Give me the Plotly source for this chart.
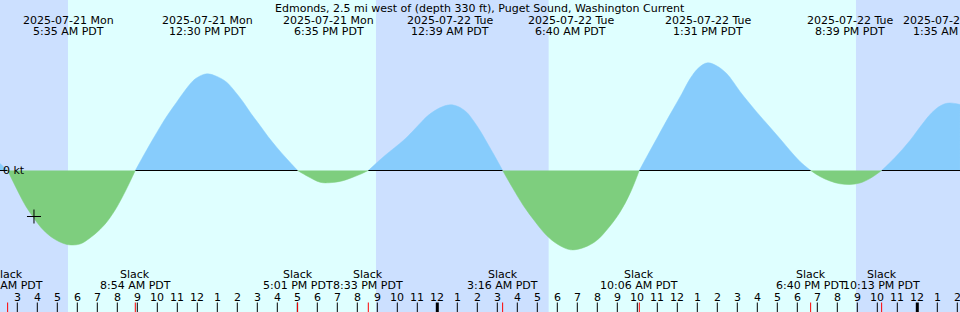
import plotly.graph_objects as go
import pandas as pd

# ---------------- data ----------------
TITLE = "Edmonds, 2.5 mi west of (depth 330 ft), Puget Sound, Washington Current"

# current curve: time, knots (+ flood, - ebb)
curve_times = [
    # flood (tail)
    "2025-07-21 02:08", "2025-07-21 02:31",
    # ebb 1
    "2025-07-21 02:50", "2025-07-21 03:08", "2025-07-21 03:26", "2025-07-21 03:48",
    "2025-07-21 04:11", "2025-07-21 04:38", "2025-07-21 05:08", "2025-07-21 05:35",
    "2025-07-21 06:08", "2025-07-21 06:38", "2025-07-21 07:08", "2025-07-21 07:32",
    "2025-07-21 07:58", "2025-07-21 08:26", "2025-07-21 08:54",
    # flood 1
    "2025-07-21 09:29", "2025-07-21 10:08", "2025-07-21 10:32", "2025-07-21 10:58",
    "2025-07-21 11:23", "2025-07-21 11:48", "2025-07-21 12:08", "2025-07-21 12:30",
    "2025-07-21 12:59", "2025-07-21 13:28", "2025-07-21 13:53", "2025-07-21 14:18",
    "2025-07-21 14:41", "2025-07-21 15:08", "2025-07-21 15:32", "2025-07-21 15:58",
    "2025-07-21 16:29", "2025-07-21 17:01",
    # ebb 2
    "2025-07-21 17:32", "2025-07-21 18:08", "2025-07-21 18:35", "2025-07-21 19:14",
    "2025-07-21 19:47", "2025-07-21 20:11", "2025-07-21 20:33",
    # flood 2
    "2025-07-21 21:23", "2025-07-21 22:18", "2025-07-21 22:44", "2025-07-21 23:08",
    "2025-07-21 23:32", "2025-07-21 23:58", "2025-07-22 00:17", "2025-07-22 00:39",
    "2025-07-22 01:02", "2025-07-22 01:28", "2025-07-22 01:50", "2025-07-22 02:08",
    "2025-07-22 02:29", "2025-07-22 02:53", "2025-07-22 03:16",
    # ebb 3
    "2025-07-22 03:47", "2025-07-22 04:18", "2025-07-22 04:53", "2025-07-22 05:28",
    "2025-07-22 06:02", "2025-07-22 06:40", "2025-07-22 07:20", "2025-07-22 07:58",
    "2025-07-22 08:32", "2025-07-22 09:08", "2025-07-22 09:38", "2025-07-22 10:06",
    # flood 3
    "2025-07-22 10:32", "2025-07-22 10:58", "2025-07-22 11:23", "2025-07-22 11:48",
    "2025-07-22 12:14", "2025-07-22 12:38", "2025-07-22 13:05", "2025-07-22 13:31",
    "2025-07-22 13:59", "2025-07-22 14:28", "2025-07-22 14:47", "2025-07-22 15:08",
    "2025-07-22 15:32", "2025-07-22 15:58", "2025-07-22 16:23", "2025-07-22 16:48",
    "2025-07-22 17:14", "2025-07-22 17:38", "2025-07-22 18:08", "2025-07-22 18:40",
    # ebb 4
    "2025-07-22 19:08", "2025-07-22 19:38", "2025-07-22 20:08", "2025-07-22 20:39",
    "2025-07-22 21:08", "2025-07-22 21:38", "2025-07-22 22:13",
    # flood 4
    "2025-07-22 22:53", "2025-07-22 23:38", "2025-07-23 00:14", "2025-07-23 00:44",
    "2025-07-23 01:11", "2025-07-23 01:35", "2025-07-23 02:08",
]
curve_knots = [
    0.07, 0.0,
    -0.13, -0.25, -0.36, -0.467,
    -0.57, -0.655, -0.715, -0.743,
    -0.735, -0.675, -0.59, -0.50,
    -0.37, -0.195, 0.0,
    0.21, 0.433, 0.56, 0.683,
    0.80, 0.90, 0.945, 0.967,
    0.94, 0.883, 0.79, 0.683,
    0.57, 0.45, 0.34, 0.233,
    0.115, 0.0,
    -0.06, -0.117, -0.123, -0.105,
    -0.067, -0.035, 0.0,
    0.15, 0.30, 0.385, 0.47,
    0.55, 0.61, 0.64, 0.657,
    0.64, 0.583, 0.49, 0.40,
    0.28, 0.14, 0.0,
    -0.18, -0.35, -0.51, -0.65,
    -0.74, -0.793, -0.77, -0.70,
    -0.58, -0.417, -0.23, 0.0,
    0.16, 0.317, 0.47, 0.617,
    0.77, 0.917, 1.03, 1.077,
    1.045, 0.97, 0.89, 0.79,
    0.69, 0.585, 0.49, 0.395,
    0.295, 0.20, 0.09, 0.0,
    -0.06, -0.105, -0.133, -0.14,
    -0.125, -0.08, 0.0,
    0.13, 0.30, 0.46, 0.58,
    0.65, 0.675, 0.66,
]

# max flood / max ebb events (top labels)
extreme_times = [
    "2025-07-21 05:35", "2025-07-21 12:30", "2025-07-21 18:35", "2025-07-22 00:39",
    "2025-07-22 06:40", "2025-07-22 13:31", "2025-07-22 20:39", "2025-07-23 01:35",
]
# slack water events (bottom labels)
slack_times = [
    "2025-07-21 02:31", "2025-07-21 08:54", "2025-07-21 17:01", "2025-07-21 20:33",
    "2025-07-22 03:16", "2025-07-22 10:06", "2025-07-22 18:40", "2025-07-22 22:13",
]
# night periods (sunset -> sunrise)
night_start = ["2025-07-21 00:00", "2025-07-21 20:56", "2025-07-22 20:56"]
night_end = ["2025-07-21 05:32", "2025-07-22 05:34", "2025-07-23 04:00"]

now_time = "2025-07-21 03:50"
now_knots = -0.46

x_start = "2025-07-21 02:08:06"
x_end = "2025-07-23 02:08:06"

# ---------------- styles ----------------
FONT = "DejaVu Sans"
DAY = "#DFFFFF"
NIGHT = "#CCE0FF"
FLOOD = "#87CCFC"
EBB = "#7ECE7E"
H = 312.0


def py(px):
    """paper y from pixel-from-top"""
    return 1 - px / H


fig = go.Figure()

# split curve into flood / ebb segments at slack points
segments = []
cur_t, cur_v = [], []
for t, v in zip(curve_times, curve_knots):
    cur_t.append(t)
    cur_v.append(v)
    if v == 0 and len(cur_t) > 1:
        segments.append((cur_t, cur_v))
        cur_t, cur_v = [t], [v]
if len(cur_t) > 1:
    segments.append((cur_t, cur_v))

flood_segs = [s for s in segments if max(s[1]) > 0]
ebb_segs = [s for s in segments if min(s[1]) < 0]

for ts, vs in flood_segs:
    fig.add_trace(go.Scatter(x=ts, y=vs, mode="lines",
                             line=dict(width=0.5, color=FLOOD, shape="spline", smoothing=1.0),
                             fill="tozeroy", fillcolor=FLOOD, hoverinfo="skip", showlegend=False))

# zero line, drawn only along flood spans (ebb fill hides it in the reference)
zx, zy = [], []
for ts, vs in flood_segs:
    zx += [ts[0], ts[-1], None]
    zy += [0, 0, None]
zx[-2] = x_end
fig.add_trace(go.Scatter(x=zx, y=zy, mode="lines", line=dict(width=1, color="black"),
                         hoverinfo="skip", showlegend=False, connectgaps=False))

for ts, vs in ebb_segs:
    fig.add_trace(go.Scatter(x=ts, y=vs, mode="lines",
                             line=dict(width=0.5, color=EBB, shape="spline", smoothing=1.0),
                             fill="tozeroy", fillcolor=EBB, hoverinfo="skip", showlegend=False))

# "now" marker
fig.add_trace(go.Scatter(x=[now_time], y=[now_knots], mode="markers",
                         marker=dict(symbol="cross-thin", size=10, line=dict(width=1, color="black")),
                         hoverinfo="skip", showlegend=False))

shapes = []
for a, b in zip(night_start, night_end):
    shapes.append(dict(type="rect", xref="x", yref="paper", x0=a, x1=b, y0=0, y1=1,
                       fillcolor=NIGHT, line=dict(width=0), layer="below"))

annotations = []
annotations.append(dict(text=TITLE, x=0.5, y=py(8), xref="paper", yref="paper",
                        xanchor="center", yanchor="middle", showarrow=False,
                        font=dict(family=FONT, size=11, color="black")))
annotations.append(dict(text="0 kt", x=0, y=0, xref="paper", yref="y", xshift=1,
                        xanchor="left", yanchor="middle", showarrow=False,
                        font=dict(family=FONT, size=11, color="black")))


def fmt_time(ts):
    d = pd.Timestamp(ts)
    h = d.hour % 12
    if h == 0:
        h = 12
    return f"{h}:{d.minute:02d} {'AM' if d.hour < 12 else 'PM'} PDT"


for t in extreme_times:
    d = pd.Timestamp(t)
    annotations.append(dict(text=d.strftime("%Y-%m-%d %a"), x=t, y=py(20.5), xref="x", yref="paper",
                            xanchor="center", yanchor="middle", showarrow=False,
                            font=dict(family=FONT, size=11, color="black")))
    annotations.append(dict(text=fmt_time(t), x=t, y=py(31.5), xref="x", yref="paper",
                            xanchor="center", yanchor="middle", showarrow=False,
                            font=dict(family=FONT, size=11, color="black")))

for t in slack_times:
    annotations.append(dict(text="Slack", x=t, y=py(274), xref="x", yref="paper",
                            xanchor="center", yanchor="middle", showarrow=False,
                            font=dict(family=FONT, size=11, color="black")))
    annotations.append(dict(text=fmt_time(t), x=t, y=py(285.5), xref="x", yref="paper",
                            xanchor="center", yanchor="middle", showarrow=False,
                            font=dict(family=FONT, size=11, color="black")))

# hour ticks
hours = pd.date_range("2025-07-21 03:00", "2025-07-23 02:00", freq="h")
for hr in hours:
    lab = hr.hour % 12
    if lab == 0:
        lab = 12
    annotations.append(dict(text=str(lab), x=hr, y=py(297.5), xref="x", yref="paper",
                            xanchor="center", yanchor="middle", showarrow=False,
                            font=dict(family=FONT, size=11, color="black")))
    shapes.append(dict(type="line", xref="x", yref="paper", x0=hr, x1=hr, y0=0, y1=py(302.5),
                       line=dict(color="black", width=3 if hr.hour == 0 else 1)))
for t in slack_times:
    shapes.append(dict(type="line", xref="x", yref="paper", x0=t, x1=t, y0=0, y1=py(302.5),
                       line=dict(color="red", width=1)))

fig.update_layout(
    width=960, height=312,
    margin=dict(l=0, r=0, t=0, b=0),
    paper_bgcolor=DAY, plot_bgcolor=DAY,
    shapes=shapes, annotations=annotations,
    xaxis=dict(range=[x_start, x_end], visible=False, showgrid=False, zeroline=False, fixedrange=True),
    yaxis=dict(range=[-1.415, 1.705], visible=False, showgrid=False, zeroline=False, fixedrange=True),
    showlegend=False,
    font=dict(family=FONT, size=11, color="black"),
)

fig.write_html("out.html", config={"displayModeBar": False})
